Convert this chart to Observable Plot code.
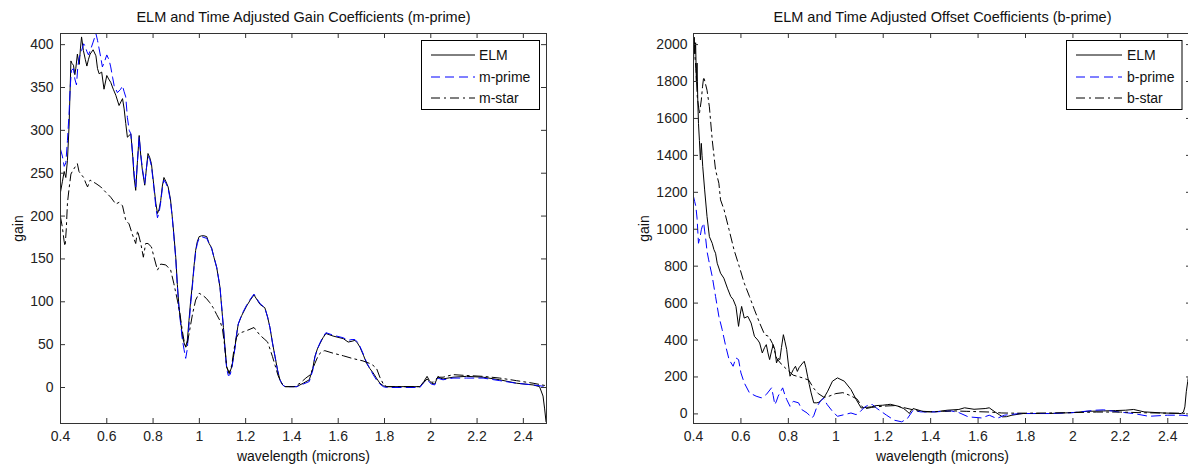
<!DOCTYPE html>
<html><head><meta charset="utf-8">
<script src="https://cdn.jsdelivr.net/npm/d3@7"></script>
<script src="https://cdn.jsdelivr.net/npm/@observablehq/plot@0.6"></script>
<style>
html,body{margin:0;padding:0;background:#fff;overflow:hidden;width:1188px;height:468px}
#wrap{display:flex;width:1194px;height:468px}
#wrap svg{max-width:none !important;flex:none}
</style></head><body><div id="wrap"></div>
<script>
// ---- data ----
const xTicks = [0.4,0.6,0.8,1.0,1.2,1.4,1.6,1.8,2.0,2.2,2.4];
const gainTicks = [0,50,100,150,200,250,300,350,400];
const offsetTicks = [0,200,400,600,800,1000,1200,1400,1600,1800,2000];

const gainTitle = "ELM and Time Adjusted Gain Coefficients (m-prime)";
const offsetTitle = "ELM and Time Adjusted Offset Coefficients (b-prime)";
const gainNames = ["ELM","m-prime","m-star"];
const offsetNames = ["ELM","b-prime","b-star"];

const elmGain = [[0.400,228],[0.408,240],[0.416,252],[0.423,245],[0.430,265],[0.437,305],[0.445,381],[0.450,378],[0.456,376],[0.462,365],[0.466,372],[0.473,389],[0.478,380],[0.481,377],[0.486,395],[0.491,409],[0.499,393],[0.507,383],[0.514,375],[0.521,383],[0.528,389],[0.541,394],[0.553,387],[0.560,372],[0.567,366],[0.578,368],[0.588,348],[0.600,364],[0.608,360],[0.617,356],[0.628,348],[0.639,341],[0.653,329],[0.668,337],[0.675,325],[0.682,308],[0.689,292],[0.704,296],[0.712,270],[0.718,245],[0.725,230],[0.732,262],[0.740,294],[0.747,270],[0.754,253],[0.764,236],[0.771,255],[0.778,273],[0.786,268],[0.793,261],[0.804,234],[0.812,215],[0.819,203],[0.826,208],[0.833,218],[0.840,235],[0.847,245],[0.856,240],[0.865,234],[0.875,220],[0.883,199],[0.890,178],[0.898,152],[0.905,120],[0.912,94],[0.920,75],[0.927,59],[0.934,52],[0.941,47],[0.948,55],[0.955,78],[0.962,100],[0.970,121],[0.977,142],[0.984,160],[0.991,170],[0.999,176],[1.010,177],[1.020,177],[1.032,176],[1.042,168],[1.053,163],[1.063,152],[1.075,140],[1.089,117],[1.096,95],[1.104,70],[1.111,45],[1.118,24],[1.129,16],[1.140,24],[1.147,35],[1.154,47],[1.161,62],[1.168,74],[1.183,84],[1.204,95],[1.220,102],[1.236,108],[1.250,102],[1.262,97],[1.283,93],[1.295,82],[1.305,70],[1.316,52],[1.327,36],[1.338,20],[1.348,9],[1.360,3],[1.370,1],[1.420,1],[1.449,5],[1.475,9],[1.490,22],[1.499,36],[1.510,45],[1.521,51],[1.534,58],[1.547,63],[1.578,60],[1.622,57],[1.643,53],[1.660,54],[1.672,55],[1.683,52],[1.694,47],[1.710,37],[1.723,28],[1.737,22],[1.751,17],[1.765,11],[1.780,5],[1.795,2],[1.809,1],[1.953,1],[1.970,7],[1.984,13],[1.994,8],[2.003,5],[2.017,4],[2.031,13],[2.040,11],[2.053,10],[2.096,12],[2.154,13],[2.226,12],[2.298,9],[2.370,5],[2.442,3],[2.470,1],[2.485,-10],[2.492,-25],[2.498,-40]];

const mPrime = [[0.400,278],[0.408,270],[0.416,258],[0.423,262],[0.430,288],[0.437,320],[0.442,350],[0.447,370],[0.456,372],[0.462,360],[0.469,353],[0.475,375],[0.481,385],[0.491,393],[0.500,401],[0.507,398],[0.514,392],[0.521,388],[0.531,395],[0.541,403],[0.553,413],[0.560,405],[0.567,395],[0.574,385],[0.581,374],[0.590,380],[0.600,388],[0.610,382],[0.617,374],[0.625,362],[0.632,352],[0.646,344],[0.660,348],[0.668,352],[0.675,345],[0.682,339],[0.689,315],[0.697,300],[0.704,296],[0.712,272],[0.718,250],[0.725,234],[0.732,262],[0.740,292],[0.747,272],[0.754,255],[0.764,238],[0.771,255],[0.778,270],[0.786,266],[0.793,258],[0.804,232],[0.812,210],[0.819,198],[0.826,204],[0.833,216],[0.840,232],[0.847,242],[0.856,238],[0.865,232],[0.875,218],[0.883,198],[0.890,176],[0.898,150],[0.905,118],[0.912,92],[0.920,72],[0.927,55],[0.934,44],[0.941,34],[0.948,45],[0.955,72],[0.962,96],[0.970,118],[0.977,140],[0.984,158],[0.991,168],[0.999,174],[1.010,176],[1.020,175],[1.032,174],[1.042,168],[1.053,162],[1.063,152],[1.075,140],[1.089,118],[1.096,96],[1.104,70],[1.111,44],[1.118,22],[1.125,14],[1.133,15],[1.140,22],[1.147,34],[1.154,46],[1.161,62],[1.168,74],[1.183,85],[1.204,96],[1.220,103],[1.236,109],[1.250,103],[1.262,98],[1.283,93],[1.295,82],[1.305,70],[1.316,52],[1.327,36],[1.338,20],[1.348,9],[1.360,3],[1.370,1],[1.420,1],[1.449,4],[1.475,7],[1.490,20],[1.499,35],[1.510,45],[1.521,52],[1.534,59],[1.547,64],[1.578,61],[1.622,58],[1.643,55],[1.660,56],[1.672,56],[1.683,53],[1.694,48],[1.710,38],[1.723,29],[1.737,22],[1.751,15],[1.765,9],[1.780,4],[1.795,1],[1.809,0],[1.953,0],[1.970,6],[1.984,10],[1.994,6],[2.003,4],[2.017,3],[2.031,11],[2.040,10],[2.053,9],[2.096,11],[2.154,11],[2.226,11],[2.298,8],[2.370,5],[2.442,3],[2.500,1]];

const mStar = [[0.400,199],[0.408,187],[0.416,170],[0.420,165],[0.425,185],[0.430,215],[0.437,232],[0.445,249],[0.455,254],[0.465,258],[0.473,261],[0.480,252],[0.488,249],[0.500,245],[0.510,238],[0.517,234],[0.528,242],[0.540,240],[0.553,238],[0.574,234],[0.595,228],[0.617,222],[0.639,214],[0.653,216],[0.668,212],[0.682,195],[0.696,191],[0.710,179],[0.725,168],[0.733,183],[0.747,168],[0.758,152],[0.768,168],[0.778,168],[0.793,164],[0.804,152],[0.819,137],[0.833,144],[0.855,143],[0.876,137],[0.890,121],[0.905,102],[0.915,88],[0.927,65],[0.937,50],[0.945,48],[0.955,62],[0.970,85],[0.984,102],[0.999,110],[1.017,107],[1.030,104],[1.045,99],[1.060,93],[1.075,85],[1.089,78],[1.100,68],[1.111,45],[1.118,24],[1.129,17],[1.140,26],[1.150,45],[1.160,58],[1.170,63],[1.190,65],[1.210,67],[1.236,70],[1.262,61],[1.283,56],[1.295,53],[1.305,45],[1.316,36],[1.327,26],[1.340,14],[1.355,5],[1.370,1],[1.410,1],[1.435,5],[1.460,11],[1.480,15],[1.499,28],[1.515,38],[1.530,42],[1.542,43],[1.578,40],[1.622,37],[1.660,34],[1.707,31],[1.737,28],[1.750,26],[1.766,22],[1.780,12],[1.795,4],[1.810,1],[1.953,1],[1.970,6],[1.984,10],[1.994,7],[2.010,6],[2.031,12],[2.053,12],[2.096,15],[2.154,14],[2.226,13],[2.298,11],[2.370,8],[2.442,5],[2.500,2]];

const elmOffset = [[0.400,1900],[0.403,2040],[0.406,1950],[0.409,2010],[0.412,1800],[0.415,1900],[0.418,1700],[0.421,1573],[0.425,1480],[0.429,1375],[0.433,1465],[0.436,1400],[0.439,1339],[0.447,1213],[0.457,1069],[0.467,960],[0.479,924],[0.486,890],[0.493,870],[0.500,816],[0.507,790],[0.514,762],[0.528,735],[0.543,681],[0.557,636],[0.567,620],[0.579,582],[0.590,474],[0.597,540],[0.603,582],[0.614,519],[0.629,528],[0.643,492],[0.657,420],[0.671,400],[0.679,384],[0.690,330],[0.700,360],[0.707,375],[0.714,330],[0.721,294],[0.729,340],[0.736,375],[0.743,348],[0.750,276],[0.757,300],[0.764,294],[0.771,360],[0.779,429],[0.786,390],[0.793,348],[0.800,270],[0.807,204],[0.814,222],[0.821,240],[0.830,258],[0.838,230],[0.845,250],[0.857,270],[0.867,285],[0.874,250],[0.881,204],[0.888,160],[0.896,114],[0.907,60],[0.920,60],[0.929,63],[0.950,87],[0.966,123],[0.986,177],[1.007,195],[1.036,177],[1.064,132],[1.086,78],[1.107,32],[1.129,35],[1.150,38],[1.170,45],[1.198,47],[1.217,50],[1.230,52],[1.262,42],[1.286,29],[1.300,15],[1.310,2],[1.318,18],[1.326,29],[1.374,11],[1.420,11],[1.470,20],[1.519,24],[1.543,33],[1.583,25],[1.630,29],[1.647,33],[1.671,11],[1.690,-5],[1.703,-16],[1.720,-15],[1.743,-7],[1.790,2],[1.900,2],[2.000,7],[2.060,14],[2.130,16],[2.180,18],[2.222,20],[2.256,24],[2.300,11],[2.380,5],[2.456,2],[2.466,10],[2.472,38],[2.478,120],[2.484,175],[2.490,230],[2.500,300]];

const bPrime = [[0.400,1177],[0.405,1150],[0.410,1123],[0.415,1060],[0.421,924],[0.428,960],[0.433,997],[0.438,1020],[0.443,1033],[0.447,990],[0.452,942],[0.457,880],[0.464,834],[0.479,744],[0.493,636],[0.507,528],[0.521,456],[0.536,366],[0.550,294],[0.567,258],[0.579,303],[0.590,294],[0.600,222],[0.614,168],[0.636,114],[0.664,96],[0.686,87],[0.707,105],[0.729,141],[0.736,100],[0.743,50],[0.750,70],[0.757,96],[0.776,141],[0.786,100],[0.793,78],[0.807,41],[0.821,68],[0.843,60],[0.857,23],[0.879,5],[0.900,-22],[0.907,-10],[0.921,41],[0.936,70],[0.948,85],[0.964,50],[0.986,14],[1.007,-13],[1.036,-4],[1.064,5],[1.086,-4],[1.102,11],[1.120,35],[1.142,52],[1.155,50],[1.174,29],[1.214,-7],[1.246,-34],[1.278,-43],[1.302,-25],[1.326,20],[1.358,11],[1.420,11],[1.487,16],[1.519,7],[1.559,-16],[1.615,-22],[1.647,-7],[1.679,-25],[1.711,-7],[1.775,2],[1.900,2],[2.000,7],[2.096,20],[2.130,22],[2.190,11],[2.256,2],[2.320,-13],[2.400,-7],[2.460,-7],[2.500,-13]];

const bStar = [[0.400,2000],[0.405,1960],[0.410,1870],[0.416,1717],[0.425,1627],[0.433,1700],[0.438,1771],[0.443,1825],[0.450,1790],[0.457,1753],[0.467,1663],[0.479,1483],[0.493,1321],[0.507,1249],[0.514,1159],[0.529,1105],[0.550,997],[0.571,888],[0.593,798],[0.614,708],[0.636,636],[0.657,564],[0.679,492],[0.700,429],[0.717,420],[0.733,381],[0.751,300],[0.770,270],[0.786,250],[0.820,210],[0.860,195],[0.886,183],[0.906,140],[0.926,110],[0.950,90],[0.970,95],[1.000,110],[1.030,115],[1.060,100],[1.090,80],[1.110,40],[1.125,28],[1.150,35],[1.200,42],[1.250,45],[1.300,30],[1.350,15],[1.400,12],[1.450,14],[1.500,16],[1.550,14],[1.600,12],[1.650,10],[1.700,5],[1.750,4],[1.800,4],[1.900,5],[2.000,7],[2.100,10],[2.200,10],[2.300,6],[2.400,4],[2.500,3]];

// ---- drawing ----
const H = 468, MT = 33, MB = 45;
const FONT = "'Liberation Sans', Arial, Helvetica, sans-serif";
const styles = [
  {stroke: "#000", dash: null},
  {stroke: "#0000ff", dash: "9,5"},
  {stroke: "#000", dash: "9,4,2,4"}
];

function panel({width, marginLeft, marginRight, yDomain, yTicks, series, title, names, yPad, ylabDx, legend}) {
  const innerW = width - marginLeft - marginRight;
  const innerH = H - MT - MB;
  const fmtX = d => String(+(+d).toFixed(1));
  const fmtY = d => String(d);
  const lines = series.map((s, i) => Plot.line(s, {
    x: d => d[0], y: d => d[1], stroke: styles[i].stroke, strokeWidth: 1,
    strokeDasharray: styles[i].dash, clip: true
  }));
  const svg = Plot.plot({
    width, height: H, marginLeft, marginRight, marginTop: MT, marginBottom: MB,
    style: {fontFamily: FONT, fontSize: "14px", background: "#fff", color: "#222"},
    x: {domain: [0.4, 2.5], ticks: xTicks, tickSize: 0, tickPadding: 8, tickFormat: fmtX, label: null},
    y: {domain: yDomain, ticks: yTicks, tickSize: 0, tickPadding: yPad, tickFormat: fmtY, label: null},
    marks: [
      ...lines,
      Plot.tickX(xTicks, {x: d => d, insetTop: innerH - 5, stroke: "#333"}),
      Plot.tickX(xTicks, {x: d => d, insetBottom: innerH - 5, stroke: "#333"}),
      Plot.tickY(yTicks, {y: d => d, insetRight: innerW - 5, stroke: "#333"}),
      Plot.tickY(yTicks, {y: d => d, insetLeft: innerW - 5, stroke: "#333"}),
      Plot.frame({stroke: "#333", strokeWidth: 1}),
      Plot.text([title], {frameAnchor: "top", textAnchor: "middle", lineAnchor: "middle", dy: -16, fontSize: 14.5, fill: "#111"}),
      Plot.text(["wavelength (microns)"], {frameAnchor: "bottom", textAnchor: "middle", lineAnchor: "middle", dy: 33, fill: "#111"}),
      Plot.text(["gain"], {frameAnchor: "left", textAnchor: "middle", lineAnchor: "middle", rotate: -90, dx: ylabDx, fill: "#111"})
    ]
  });
  // legend box
  const g = d3.select(svg).append("g").attr("text-anchor", "start");
  g.append("rect").attr("x", legend.x).attr("y", 40.5).attr("width", legend.w).attr("height", 69)
    .attr("fill", "#fff").attr("stroke", "#000");
  const ys = [55, 77, 98];
  names.forEach((n, i) => {
    g.append("line").attr("x1", legend.l1).attr("x2", legend.l2).attr("y1", ys[i]).attr("y2", ys[i])
      .attr("stroke", styles[i].stroke).attr("stroke-width", 1)
      .attr("stroke-dasharray", styles[i].dash);
    g.append("text").attr("x", legend.tx).attr("y", ys[i]).attr("dy", "0.35em")
      .attr("text-anchor", "start")
      .attr("fill", "#111").style("font-size", "14px").text(n);
  });
  return svg;
}

const wrap = document.getElementById("wrap");
wrap.appendChild(panel({
  width: 594, marginLeft: 60, marginRight: 48, yDomain: [-42, 413], yTicks: gainTicks,
  series: [elmGain, mPrime, mStar], title: gainTitle, names: gainNames, yPad: 7, ylabDx: -42,
  legend: {x: 421.5, w: 118, l1: 431, l2: 475, tx: 479}
}));
wrap.appendChild(panel({
  width: 600, marginLeft: 99, marginRight: 3, yDomain: [-52, 2060], yTicks: offsetTicks,
  series: [elmOffset, bPrime, bStar], title: offsetTitle, names: offsetNames, yPad: 6, ylabDx: -49,
  legend: {x: 472.5, w: 115.5, l1: 482, l2: 528, tx: 533}
}));
</script></body></html>
